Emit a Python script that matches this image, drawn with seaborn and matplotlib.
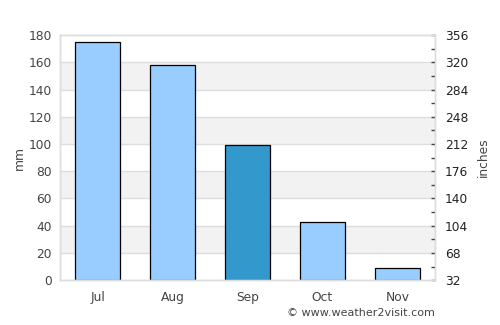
import pandas as pd
import numpy as np
import seaborn as sns
import matplotlib.pyplot as plt
from matplotlib.ticker import FixedLocator

# data
months = ["Jul", "Aug", "Sep", "Oct", "Nov"]
rain_mm = [175, 158, 99, 43, 9]
highlight = "Sep"

right_ticks = [32, 68, 104, 140, 176, 212, 248, 284, 320, 356]

df = pd.DataFrame({"month": months, "mm": rain_mm})
df["kind"] = np.where(df["month"] == highlight, "hi", "lo")

sns.set_style("white")
plt.rcParams["font.family"] = ["DejaVu Sans"]

fs = 8.8
fig = plt.figure(figsize=(5, 3.25), dpi=100)
ax = fig.add_axes([0.12, 0.138, 0.75, 0.754])

# alternating grey bands
for lo in range(20, 180, 40):
    ax.axhspan(lo, lo + 20, color="#f2f2f2", zorder=0, lw=0)
for y in range(20, 180, 20):
    ax.axhline(y, color="#dddddd", lw=1, zorder=0.5)

sns.barplot(data=df, x="month", y="mm", hue="kind",
            palette={"lo": "#99ccff", "hi": "#3399cc"}, saturation=1,
            dodge=False, width=0.6, edgecolor="black", linewidth=0.9,
            legend=False, ax=ax, zorder=2)

ax.set_xlim(-0.5, 4.5)
ax.set_ylim(0, 180)
ax.set_yticks(range(0, 181, 20))
ax.set_xlabel("")
ax.set_ylabel("mm", fontsize=fs, color="#444444", labelpad=2)
ax.tick_params(axis="both", length=0, labelsize=fs, labelcolor="#444444", pad=6)
ax.tick_params(axis="x", pad=8)
for s in ax.spines.values():
    s.set_color("#dddddd")
    s.set_linewidth(1)

# right axis (linear conversion of the left scale)
ax2 = ax.twinx()
ax2.set_ylim(32, 356)
ax2.set_yticks(right_ticks)
ax2.yaxis.set_minor_locator(FixedLocator([t + 18 for t in right_ticks[:-1]]))
ax2.tick_params(axis="y", which="major", direction="in", length=3, width=1,
                color="#444444", labelsize=fs, labelcolor="#222222", pad=7)
ax2.tick_params(axis="y", which="minor", direction="in", length=3, width=1,
                color="#444444")
ax2.set_ylabel("inches", fontsize=fs, color="#444444", labelpad=6)
for s in ax2.spines.values():
    s.set_color("#dddddd")
    s.set_linewidth(1)

fig.text(0.87, 0.022, "\u00a9 www.weather2visit.com", ha="right", va="bottom",
         fontsize=8, color="#444444")

fig.savefig("out.png", dpi=100)
